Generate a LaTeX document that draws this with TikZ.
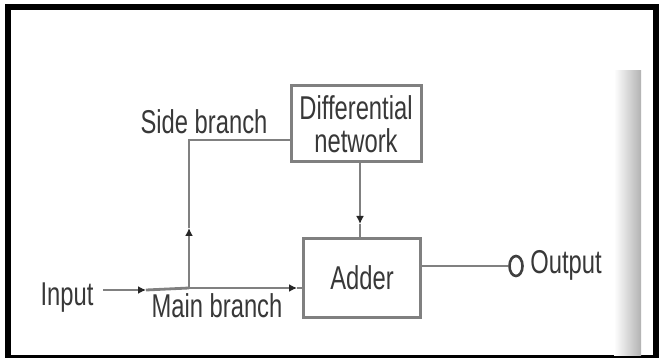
\documentclass[tikz,border=0pt]{standalone}
\usepackage{fontspec}
\setmainfont[FakeStretch=0.72]{Liberation Sans}
\usetikzlibrary{arrows.meta,shapes.geometric}
\begin{document}
\begin{tikzpicture}[x=1pt,y=-1pt,
  box/.style={draw=black!50,line width=3pt,inner sep=0pt,font=\fontsize{33}{33}\selectfont,text=black!78,align=center},
  lbl/.style={inner sep=0pt,font=\fontsize{33}{33}\selectfont,text=black!78},
  wire/.style={draw=black!50,line width=2.8pt},
  tip/.style={wire,-{Latex[length=8pt,width=8pt,color=black!85]}}
]
\useasboundingbox (0,0) rectangle (659,358);
\fill[white] (0,0) rectangle (659,358);
\draw[line width=6pt] (8,7) rectangle (656,358);
\shade[left color=white,right color=black!30] (614,71) rectangle (641,355);

\node[box,minimum width=130pt,minimum height=76pt] (diff) at (356,124) {Differential\\network};
\node[box,minimum width=117pt,minimum height=79pt] (add) at (362,278) {Adder};
\node[lbl] (side) at (204,122) {Side branch};
\node[lbl] (in) at (67,298) {Input};
\node[lbl] (mainlbl) at (217,306) {Main branch};
\node[lbl] (out) at (566,265) {Output};
\node[draw=black!75,line width=2.6pt,ellipse,minimum width=13pt,minimum height=20pt,inner sep=0pt] (oc) at (516,266) {};

\coordinate (instart) at (103,290);
\coordinate (inend) at (146,290);
\coordinate (j) at (189,288);
\coordinate (corner) at (189,140);
\coordinate (sidetip) at (189,228);
\coordinate (maintip) at (297,288);
\coordinate (difftip) at (360,224);

\draw[tip] (instart) -- (inend);
\draw[wire] (inend) -- (j);
\draw[tip] (j) -- (maintip);
\draw[wire] (maintip) -- (maintip -| add.west);
\draw[tip] (j) -- (sidetip);
\draw[wire] (sidetip) -- (corner) -- (corner -| diff.west);
\draw[tip] (diff.south -| difftip) -- (difftip);
\draw[wire] (difftip) -- (difftip |- add.north);
\draw[wire] (add.east |- oc) -- (oc.west);
\end{tikzpicture}
\end{document}
